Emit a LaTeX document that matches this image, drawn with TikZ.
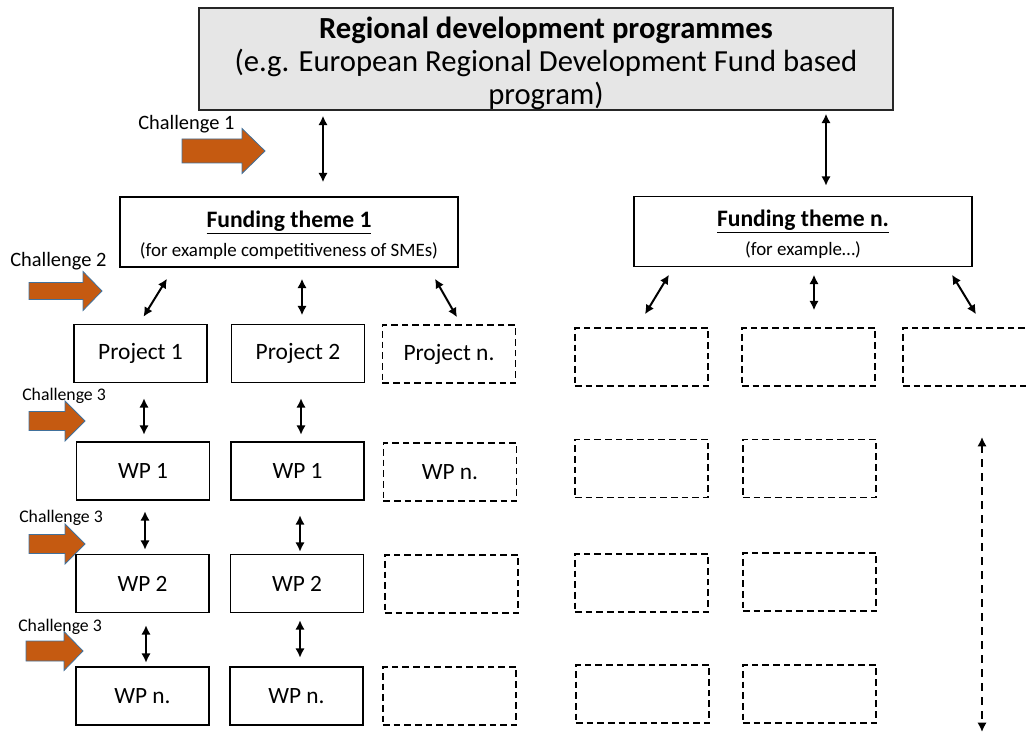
\documentclass[tikz,border=0pt]{standalone}
\usepackage{fontspec}
\setmainfont{Carlito}
\usetikzlibrary{arrows.meta,calc}
\definecolor{ChalOrange}{RGB}{197,90,17}
\definecolor{ChalEdge}{RGB}{65,113,156}
\definecolor{ProgGray}{RGB}{230,230,230}

\tikzset{
  progbox/.style={draw=black!85,fill=ProgGray,line width=1.1pt,minimum width=520.5pt,minimum height=76.5pt,align=center,inner sep=0pt,font=\fontsize{23}{24.75}\selectfont},
  themebox/.style={draw,line width=1.1pt,minimum width=253.5pt,minimum height=52.5pt,align=center,inner sep=0pt,font=\fontsize{14.2}{22}\selectfont},
  wpbox/.style={draw,line width=1.1pt,minimum width=100pt,minimum height=43.5pt,inner sep=0pt,font=\fontsize{17.5}{20}\selectfont},
  emptybox/.style={wpbox,dash pattern=on 5pt off 3pt},
  twoway/.style={{Latex[length=7pt,width=7pt]}-{Latex[length=7pt,width=7pt]},line width=1.5pt},
  chal/.style={fill=ChalOrange,draw=ChalEdge,line width=0.6pt},
  chaltext/.style={anchor=west,inner sep=0pt,font=\fontsize{15.3}{18}\selectfont},
}

% block arrow: tail x, head x, tip x, mid y, shaft height, head height
\newcommand{\chalarrow}[6]{%
  \filldraw[chal] (#1,#4-#5/2) -- (#2,#4-#5/2) -- (#2,#4-#6/2) -- (#3,#4)
    -- (#2,#4+#6/2) -- (#2,#4+#5/2) -- (#1,#4+#5/2) -- cycle;}

\begin{document}
\begin{tikzpicture}[x=0.75pt,y=-0.75pt]
  \useasboundingbox (0,0) rectangle (1026,734);

  % programme and funding themes
  \node[progbox] (rdp) at (546,59) {\rule{0pt}{22pt}{\bfseries Regional development programmes}\\(e.g. European Regional Development Fund based\\program)};
  \node[themebox] (ft1) at (289,232) {\rule{0pt}{17pt}{\fontsize{17.7}{22}\selectfont\bfseries\underline{Funding theme 1}}\\(for example competitiveness of SMEs)};
  \node[themebox] (ftn) at (803,231.5) {\rule{0pt}{17pt}{\fontsize{17.7}{22}\selectfont\bfseries\underline{Funding theme n.}}\\(for example\dots)};

  % projects
  \node[wpbox,font=\fontsize{17.6}{20}\selectfont] (p1) at (140.5,353.5) {Project 1};
  \node[wpbox,font=\fontsize{17.6}{20}\selectfont] (p2) at (298,353.5) {Project 2};
  \node[emptybox,font=\fontsize{17.6}{20}\selectfont] (pn) at (449,354) {Project n.};
  \node[emptybox] (r11) at (641.5,357) {};
  \node[emptybox] (r12) at (808.5,357) {};
  \node[emptybox] (r13) at (969.5,357) {};

  % work packages
  \node[wpbox] (w1a) at (143,471) {WP 1};
  \node[wpbox] (w1b) at (297.5,471) {WP 1};
  \node[emptybox] (w1n) at (450,472) {WP n.};
  \node[emptybox] (r21) at (641.5,468.5) {};
  \node[emptybox] (r22) at (809.5,468.5) {};

  \node[wpbox] (w2a) at (142.5,583.5) {WP 2};
  \node[wpbox] (w2b) at (297,583.5) {WP 2};
  \node[emptybox] (w2n) at (451.5,584) {};
  \node[emptybox] (r31) at (641.5,583) {};
  \node[emptybox] (r32) at (809.5,582) {};

  \node[wpbox] (wna) at (142.5,696) {WP n.};
  \node[wpbox] (wnb) at (296.5,696) {WP n.};
  \node[emptybox] (wnn) at (449.5,696) {};
  \node[emptybox] (r41) at (642.5,694) {};
  \node[emptybox] (r42) at (809.5,694) {};

  % links
  \draw[twoway] ([shift={(-223,5)}]rdp.south) -- ([shift={(34,-14)}]ft1.north);
  \draw[twoway] ([shift={(280,3)}]rdp.south) -- ([shift={(23,-10)}]ftn.north);
  \draw[twoway] ([shift={(-122,11)}]ft1.south) -- ([shift={(3,-7)}]p1.north);
  \draw[twoway] ([shift={(13,11)}]ft1.south) -- ([shift={(4,-8.5)}]p2.north);
  \draw[twoway] ([shift={(146,11)}]ft1.south) -- ([shift={(8,-7)}]pn.north);
  \draw[twoway] ([shift={(-134,7.5)}]ftn.south) -- ([shift={(3.5,-13)}]r11.north);
  \draw[twoway] ([shift={(11,7.5)}]ftn.south) -- ([shift={(5.5,-17)}]r12.north);
  \draw[twoway] ([shift={(149,7.5)}]ftn.south) -- ([shift={(6.5,-13)}]r13.north);
  \draw[twoway] ([shift={(3.5,15)}]p1.south) -- ([shift={(1,-6.5)}]w1a.north);
  \draw[twoway] ([shift={(3,15)}]p2.south) -- ([shift={(3.5,-6.5)}]w1b.north);
  \draw[twoway] ([shift={(2,10.5)}]w1a.south) -- ([shift={(2.5,-4)}]w2a.north);
  \draw[twoway] ([shift={(2.5,14.5)}]w1b.south) -- ([shift={(3,-2)}]w2b.north);
  \draw[twoway] ([shift={(3.5,12)}]w2a.south) -- ([shift={(3.5,-3.5)}]wna.north);
  \draw[twoway] ([shift={(3,7)}]w2b.south) -- ([shift={(3.5,-8.5)}]wnb.north);

  \coordinate (scaletop) at (982,437);
  \coordinate (scalebot) at (982,732);
  \draw[twoway,line width=1.8pt,dash pattern=on 6pt off 4.5pt] (scaletop) -- (scalebot);

  % challenges
  \chalarrow{182}{242}{265}{151}{24}{45}
  \chalarrow{29}{83}{102}{291}{17}{39}
  \chalarrow{29}{65}{85}{421}{19}{40}
  \chalarrow{29}{65}{85}{544}{19}{40}
  \chalarrow{26}{64}{83}{651}{20}{39}
  \node[chaltext] (c1) at (138,124) {Challenge 1};
  \node[chaltext] (c2) at (10,261) {Challenge 2};
  \node[chaltext,font=\fontsize{13.3}{15}\selectfont] (c3a) at (22,396) {Challenge 3};
  \node[chaltext,font=\fontsize{13.3}{15}\selectfont] (c3b) at (19,518) {Challenge 3};
  \node[chaltext,font=\fontsize{13.3}{15}\selectfont] (c3c) at (18,627) {Challenge 3};
\end{tikzpicture}
\end{document}
